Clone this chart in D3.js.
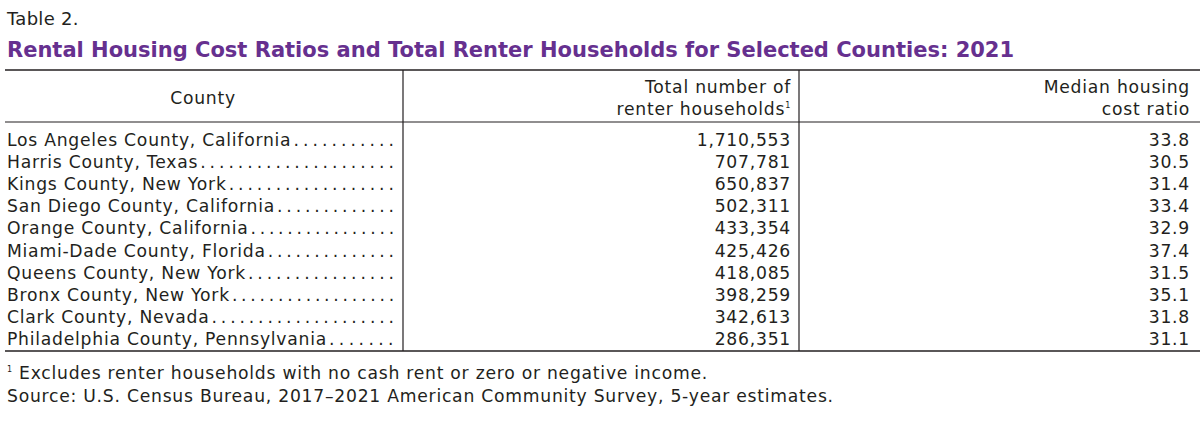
<!DOCTYPE html>
<html>
<head>
<meta charset="utf-8">
<script src="https://cdn.jsdelivr.net/npm/d3@7"></script>
<style>
  body { margin: 0; background: #fff; }
  svg text { font-family: "DejaVu Sans", sans-serif; fill: #231f20; letter-spacing: 0.75px; }
</style>
</head>
<body>
<div class="table-chart"></div>
<script>
var counties = ["Los Angeles County, California", "Harris County, Texas", "Kings County, New York",
                "San Diego County, California", "Orange County, California", "Miami-Dade County, Florida",
                "Queens County, New York", "Bronx County, New York", "Clark County, Nevada",
                "Philadelphia County, Pennsylvania"];
var renterHouseholds = [1710553, 707781, 650837, 502311, 433354, 425426, 418085, 398259, 342613, 286351];
var costRatio = [33.8, 30.5, 31.4, 33.4, 32.9, 37.4, 31.5, 35.1, 31.8, 31.1];
var columnHeads = [["County"], ["Total number of", "renter households"], ["Median housing", "cost ratio"]];

var width = 1200;
var height = 443;
var fontSize = 17.2;

var svg = d3.select(".table-chart")
            .append("svg")
              .attr("width", width)
              .attr("height", height);

// rows
var y = d3.scalePoint()
          .domain(counties)
          .range([146, 345]);

var fmtCount = d3.format(",");
var fmtRatio = d3.format(".1f");

// title
svg.append("text")
   .attr("x", 7).attr("y", 25)
   .attr("font-size", "18px")
   .style("letter-spacing", "0.3px")
   .text("Table 2.");

svg.append("text")
   .attr("x", 7).attr("y", 57)
   .attr("font-size", "21px")
   .attr("font-weight", "bold")
   .style("letter-spacing", "0px")
   .style("fill", "#66308f")
   .text("Rental Housing Cost Ratios and Total Renter Households for Selected Counties: 2021");

// rules
var rules = [[70, 1.5], [122, 1.2], [351, 1.5]];
svg.selectAll("line.rule")
   .data(rules)
   .enter()
   .append("line")
    .attr("class", "rule")
    .attr("x1", 5).attr("x2", 1200)
    .attr("y1", function(d) { return d[0]; })
    .attr("y2", function(d) { return d[0]; })
    .attr("stroke", "#231f20")
    .attr("stroke-width", function(d) { return d[1]; });

svg.selectAll("line.col")
   .data([403, 799])
   .enter()
   .append("line")
    .attr("class", "col")
    .attr("x1", function(d) { return d; })
    .attr("x2", function(d) { return d; })
    .attr("y1", 70).attr("y2", 351)
    .attr("stroke", "#231f20")
    .attr("stroke-width", 1.2);

// headers
svg.append("text")
   .attr("x", 203).attr("y", 104)
   .attr("text-anchor", "middle")
   .attr("font-size", fontSize + "px")
   .text(columnHeads[0][0]);

var headX = [null, 791, 1190];
[1, 2].forEach(function(c) {
  columnHeads[c].forEach(function(line, i) {
    var t = svg.append("text")
       .attr("x", headX[c]).attr("y", 93 + i * 22)
       .attr("text-anchor", "end")
       .attr("font-size", fontSize + "px")
       .text(line);
    if (c === 1 && i === 1) {
      t.append("tspan")
       .attr("font-size", "8px")
       .attr("dy", -7)
       .text("1");
    }
  });
});

// county names with dot leaders
var names = svg.selectAll("text.county")
   .data(counties)
   .enter()
   .append("text")
    .attr("class", "county")
    .attr("x", 7)
    .attr("y", function(d) { return y(d); })
    .attr("font-size", fontSize + "px")
    .text(function(d) { return d; });

var dotW = 0.318 * fontSize;
names.each(function(d) {
  var start = 7 + this.getComputedTextLength() + 2;
  var n = Math.round((398 - start) / 9.3);
  var step = (398 - start) / n;
  svg.append("text")
     .attr("x", start)
     .attr("y", y(d))
     .attr("font-size", fontSize + "px")
     .style("letter-spacing", (step - dotW) + "px")
     .text(d3.range(n).map(function() { return "."; }).join(""));
});

// values
svg.selectAll("text.count")
   .data(renterHouseholds)
   .enter()
   .append("text")
    .attr("x", 791)
    .attr("y", function(d, i) { return y(counties[i]); })
    .attr("text-anchor", "end")
    .attr("font-size", fontSize + "px")
    .text(function(d) { return fmtCount(d); });

svg.selectAll("text.ratio")
   .data(costRatio)
   .enter()
   .append("text")
    .attr("x", 1190)
    .attr("y", function(d, i) { return y(counties[i]); })
    .attr("text-anchor", "end")
    .attr("font-size", fontSize + "px")
    .text(function(d) { return fmtRatio(d); });

// notes
var note = svg.append("text")
   .attr("x", 7).attr("y", 379)
   .attr("font-size", fontSize + "px");
note.append("tspan").attr("font-size", "8px").attr("dy", -7).text("1");
note.append("tspan").attr("dy", 7).text(" Excludes renter households with no cash rent or zero or negative income.");

svg.append("text")
   .attr("x", 7).attr("y", 402)
   .attr("font-size", fontSize + "px")
   .text("Source: U.S. Census Bureau, 2017\u20132021 American Community Survey, 5-year estimates.");
</script>
</body>
</html>
